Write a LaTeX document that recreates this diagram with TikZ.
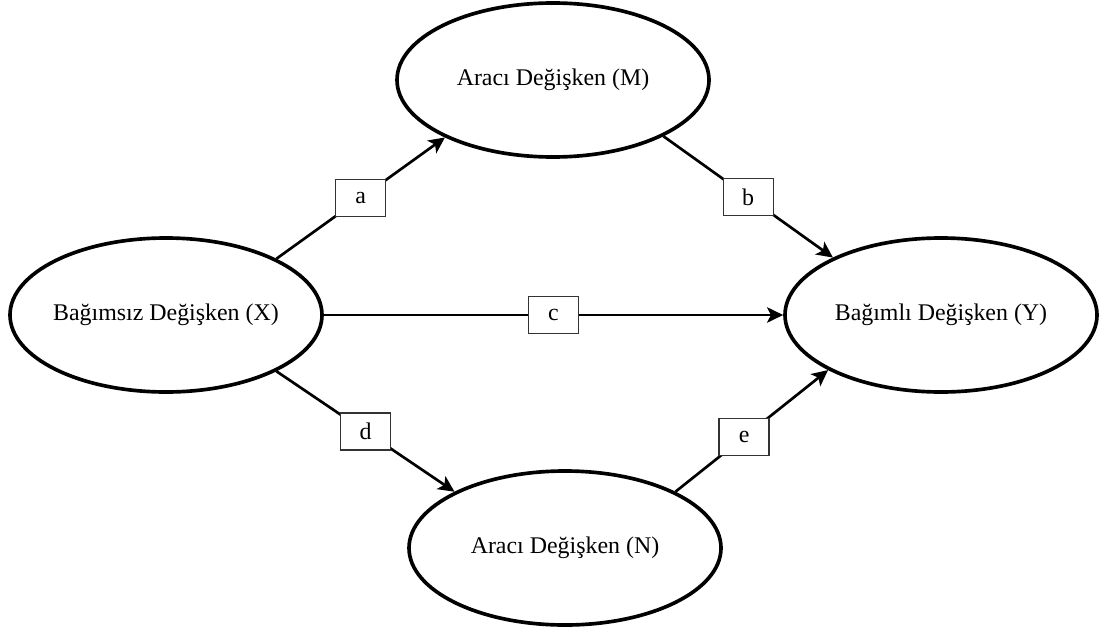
\documentclass[tikz,border=0pt]{standalone}
\usepackage{fontspec}
\setmainfont{Liberation Serif}
\usetikzlibrary{positioning,shapes.geometric,arrows.meta}

\begin{document}
\begin{tikzpicture}[on grid, every node/.style={align=center, font=\fontsize{17}{21}\selectfont},
  var/.style={ellipse, draw, line width=2.6pt, minimum width=7.8cm, minimum height=3.85cm, inner ysep=0pt, inner xsep=-1cm},
  coef/.style={rectangle, draw=black!80, line width=1pt, fill=white, minimum width=1.25cm, minimum height=0.92cm, inner sep=0pt},
  link/.style={-{Stealth[length=11.5pt, width=11pt, inset=2.8pt]}, line width=1.9pt}]
\useasboundingbox (-4.15,-8.025) rectangle (23.425,7.875);
\node (X) [var] {Bağımsız Değişken (X)};
\node (M) [var, above right=5.875cm and 9.675cm of X] {Aracı Değişken (M)};
\node (N) [var, below right=5.825cm and 9.975cm of X] {Aracı Değişken (N)};
\node (Y) [var, right=19.375cm of X] {Bağımlı Değişken (Y)};
\draw[link] (X.27) -- node[coef] {a} (M.208);
\draw[link] (M.333) -- node[coef] {b} (Y.152);
\draw[link] (X.east) -- node[coef] {c} (Y.west);
\draw[link] (X.333) -- node[coef] {d} (N.153);
\draw[link] (N.27) -- node[coef, pos=0.45] {e} (Y.206);
\end{tikzpicture}
\end{document}
